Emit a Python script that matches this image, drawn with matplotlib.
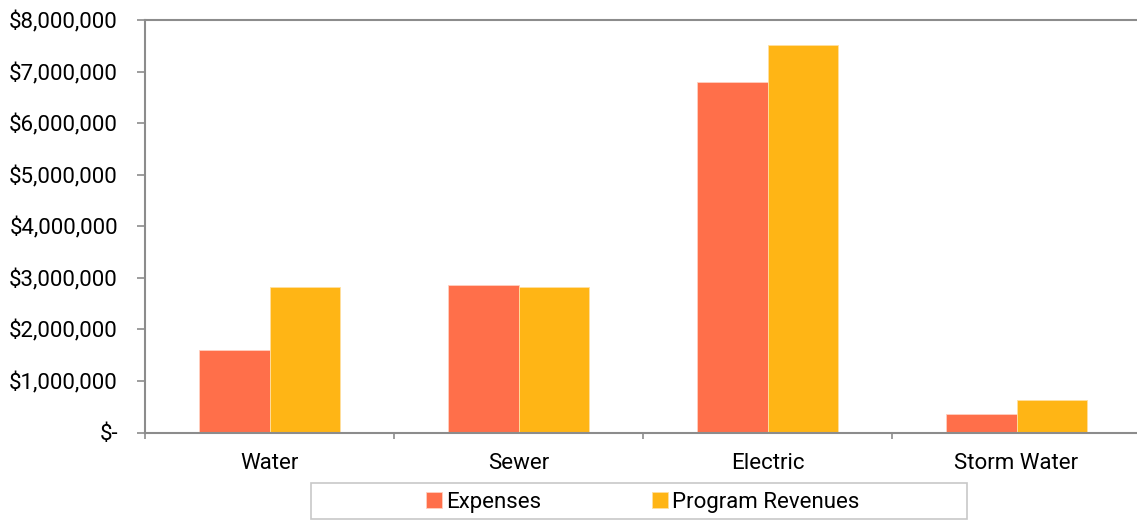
import numpy as np
import matplotlib.pyplot as plt
from matplotlib.patches import Rectangle
from matplotlib.ticker import FuncFormatter

plt.rcParams['font.family'] = ['Roboto', 'DejaVu Sans']

categories = ["Water", "Sewer", "Electric", "Storm Water"]
expenses = [1600000, 2870000, 6800000, 350000]
revenues = [2820000, 2820000, 7520000, 640000]

exp_color = "#FF6F4A"
rev_color = "#FFB515"

fig = plt.figure(figsize=(11.37, 5.21), dpi=100)
ax = fig.add_axes([145 / 1137, 1 - 432.5 / 521, (1141 - 145) / 1137, (432.5 - 20) / 521])

x = np.arange(len(categories))
w = 0.285
ax.bar(x - w / 2, expenses, w, color=exp_color, edgecolor="#FFD0C0", linewidth=0.6, label="Expenses")
ax.bar(x + w / 2, revenues, w, color=rev_color, edgecolor="#FFE0A0", linewidth=0.6, label="Program Revenues")

ax.set_xlim(-0.5, len(categories) - 0.5)
ax.set_ylim(0, 8000000)
ax.set_yticks(np.arange(0, 8000001, 1000000))


def money(v, pos):
    if v == 0:
        return "$-"
    return "${:,.0f}".format(v)


ax.yaxis.set_major_formatter(FuncFormatter(money))

# category boundaries carry the tick marks, labels sit in the middle
ax.set_xticks(np.arange(-0.5, len(categories), 1.0))
ax.set_xticklabels([])
ax.set_xticks(x, minor=True)
ax.set_xticklabels(categories, minor=True)
ax.tick_params(axis="x", which="minor", length=0, pad=15, labelsize=16)
ax.tick_params(axis="x", which="major", length=4.5, color="#8C8C8C", width=1.2)
ax.tick_params(axis="y", length=6, color="#8C8C8C", width=1.2, labelsize=16, pad=13.5)

for side in ["left", "bottom", "top"]:
    ax.spines[side].set_color("#8C8C8C")
    ax.spines[side].set_linewidth(1.5)
ax.spines["right"].set_visible(False)

# legend with a wide frame drawn underneath
fig.patches.append(Rectangle((311 / 1137, 2 / 521), 656 / 1137, 36 / 521,
                             transform=fig.transFigure, facecolor="white",
                             edgecolor="#C8C8C8", linewidth=1.2))
fig.legend(loc="center", bbox_to_anchor=(643 / 1137, 18.5 / 521), ncol=2, frameon=False,
           fontsize=16, handlelength=0.7, handleheight=0.7, handletextpad=0.2,
           columnspacing=5.0)

fig.savefig("out.png", dpi=100)
